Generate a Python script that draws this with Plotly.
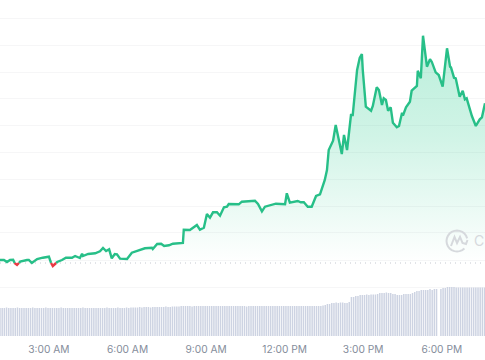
import numpy as np
import plotly.graph_objects as go

# minutes after the left edge of the chart (left edge = 1:08 AM)
minutes = [0,9,16,23,30,34,39,46,62,66,73,85,98,112,117,121,131,142,151,165,172,183,188,190,202,218,229,236,243,250,
           256,263,268,275,291,302,314,332,348,350,360,369,376,387,396,419,421,435,451,458,467,474,481,488,497,504,513,520,524,547,
           554,561,584,591,600,607,632,653,657,664,682,689,696,705,714,724,733,744,749,753,763,769,783,788,795,804,808,818,824,829,
           831,838,850,854,863,868,875,879,884,889,895,900,909,914,921,923,930,939,943,955,957,964,969,978,985,989,998,1005,1014,1024,
           1031,1033,1040,1044,1053,1060,1065,1069,1081,1090,1099,1104,1111]
price = [103,103,101,103,103.3,99.7,98,101.3,103,103,100,104,105.3,106.3,100,97,101,103,105.3,105.3,107,105,109.3,107,109,109.7,111.7,115,112,113.7,
         104.7,109,108.7,104.3,104,110.3,112,114.7,115.3,114,119,119.3,117,117.7,119.3,120,133.3,133,138,133.3,135.3,149,145.3,150.7,150.7,147.3,155.7,156.3,159,158.7,
         161.3,161.7,162.3,159,151.7,156.3,159.3,158.7,169.7,160.3,162,160.7,160.7,156.3,156.3,167,168.7,183,193,213,222.3,238,209,228,213,248,248,293,305,309,
         293,256.3,252.3,257,275.7,273,258,264.7,263,252.3,255.7,240.3,235.7,237,250.3,247.3,255.7,261.3,272.3,277,292.3,284.7,327.3,296.3,303.7,301.3,290.7,288,276.3,314.7,
         296.3,295.7,285.3,284.7,266.3,272.3,263.7,264.7,247,237,243.7,245.7,259.7]
open_price = 100
grid_levels = [345,318,291,265,238,211,184,157,131,103,76]

# five-minute volume bars
volume = [28,28,28,28.5,28,28,28,28,28.5,28,28,28,28,28,28,28.5,28,28,28,28,
          28,28.5,28,28,28,28,28,28,28.5,28,28,28,28,28,28,28,28,28,28.5,28,
          28,28,28,28,28,28,28,28,28,28.5,28,28,28,28,28.5,28,28,28,28.5,28,
          28.5,28.5,28.5,28.5,29,28.5,29,29,29,28.5,29,29,29,29,29,29,29.5,29,29,29.5,
          29.5,29.5,29.5,30,30,30,30,30,29.5,30,30,30,30,30,30,30,30,30,30,30,
          30,30,30,30,30,30,30,30,30,30,30,30,30,29.5,30,30,30,30,30,30,
          30,30,30,30,30,30,30,30,30,30,30,30,30,30,30,30,30,30,30,30,
          30,30,30,30,30,30,30,30,30.5,31,32,32,33,33,33.5,33,33.5,33.5,33,33,
          34,39,39,40,40,41,41,41,41.5,41,41.5,41.5,41.5,42,43,43,43,43.5,43,43,
          42,42,41,41,41,42,42,42,42,43,44,45,45,46,46,46,46,47,46,47,
          47,0,47,48,48,49,49,49,49,48.5,48.5,48.5,48.5,48.5,48.5,48.5,48.5,48.5,48.5,48.5,
          48.5,48.5,48.5]
volume_minutes = [5 * i for i in range(len(volume))]

tick_minutes = [112, 292, 472, 652, 832, 1012]
tick_labels = ["3:00 AM", "6:00 AM", "9:00 AM", "12:00 PM", "3:00 PM", "6:00 PM"]

GREEN = "#27bf88"
RED = "#ea3943"

# split the line where it crosses the opening price
xs, ys = [minutes[0]], [price[0]]
for i in range(1, len(price)):
    a, b = price[i - 1] - open_price, price[i] - open_price
    if a * b < 0:
        xs.append(minutes[i - 1] + (minutes[i] - minutes[i - 1]) * a / (a - b))
        ys.append(open_price)
    xs.append(minutes[i])
    ys.append(price[i])
xs, ys = np.array(xs, float), np.array(ys, float)
up = np.where(ys >= open_price, ys, np.nan)
down = np.where(ys <= open_price, ys, np.nan)

fig = go.Figure()
fig.add_trace(go.Bar(x=volume_minutes, y=volume, width=3.4, marker=dict(color="#cdd3e2", line_width=0), yaxis="y2"))
fig.add_trace(go.Scatter(x=xs, y=np.full_like(xs, open_price), mode="lines", line=dict(width=0), hoverinfo="skip"))
fig.add_trace(go.Scatter(
    x=xs, y=np.maximum(ys, open_price), mode="lines", line=dict(width=0), fill="tonexty",
    fillgradient=dict(type="vertical", start=open_price, stop=330,
                      colorscale=[[0, "rgba(22,199,132,0)"], [0.55, "rgba(22,199,132,0.2)"], [1, "rgba(22,199,132,0.3)"]]),
    hoverinfo="skip"))
fig.add_trace(go.Scatter(x=[0, 1111], y=[open_price, open_price], mode="lines",
                         line=dict(color="#c4c8d0", width=1, dash="1px 4px"), hoverinfo="skip"))
fig.add_trace(go.Scatter(x=xs, y=up, mode="lines", line=dict(color=GREEN, width=2.4), connectgaps=False))
fig.add_trace(go.Scatter(x=xs, y=down, mode="lines", line=dict(color=RED, width=2.4), connectgaps=False))


def px(x, y):
    return f"{x / 485:.4f},{1 - y / 360:.4f}"


arc = np.radians(np.arange(15, 316, 15))
arc_path = "M" + " L".join(px(457 + 10.5 * np.cos(t), 241 - 10.5 * np.sin(t)) for t in arc)
zig = [(451, 246), (454.5, 237), (457, 243), (460, 237), (462.5, 243), (466, 244), (467.5, 240)]
zig_path = "M" + " L".join(px(*p) for p in zig)
logo = dict(type="path", xref="paper", yref="paper", line=dict(color="#d6d9dd", width=2), layer="above")

fig.update_layout(
    width=485, height=360, margin=dict(l=0, r=0, t=0, b=0),
    paper_bgcolor="white", plot_bgcolor="white", showlegend=False, barmode="overlay",
    font=dict(family="Inter, Noto Sans, sans-serif", size=10.2, color="#858d9b"),
    xaxis=dict(range=[0, 1111], tickmode="array", tickvals=tick_minutes, ticktext=tick_labels,
               showgrid=False, zeroline=False, showline=False, ticks="", ticklabelstandoff=6,
               tickfont=dict(size=10.2, color="#858d9b"), anchor="y"),
    yaxis=dict(domain=[24 / 360, 1], range=[27, 363], tickmode="array", tickvals=grid_levels,
               showticklabels=False, gridcolor="#f6f6f7", gridwidth=1, zeroline=False, showline=False),
    yaxis2=dict(domain=[24 / 360, 1], range=[0, 336], overlaying="y", showgrid=False,
                showticklabels=False, zeroline=False, showline=False),
    shapes=[dict(path=arc_path, **logo), dict(path=zig_path, **logo)],
    annotations=[dict(text="C", xref="paper", yref="paper", x=479 / 485, y=1 - 241 / 360,
                      xanchor="center", yanchor="middle",
                      showarrow=False, font=dict(size=14, color="#d6d9dd"))],
)
fig.write_html("out.html", config={"staticPlot": True},
               post_script="document.body.style.margin='0';")
